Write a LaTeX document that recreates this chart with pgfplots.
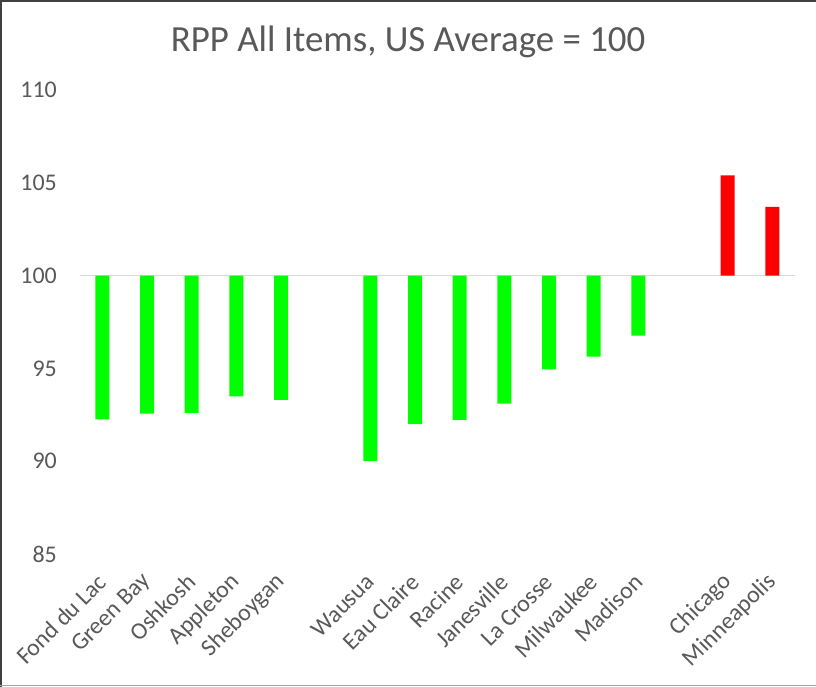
\documentclass[border=0pt]{standalone}
\usepackage{pgfplots}
\pgfplotsset{compat=1.18}
\usepackage{fontspec}
\setmainfont{Carlito}
\definecolor{txt}{HTML}{595959}
\definecolor{gridc}{HTML}{D9D9D9}
\definecolor{barg}{HTML}{00FF00}
\definecolor{barr}{HTML}{FF0000}
\definecolor{frame}{HTML}{404040}
\begin{document}
\begin{tikzpicture}[x=1bp,y=1bp]
\useasboundingbox (0,0) rectangle (816,-687);
\fill[white] (0,0) rectangle (816,-687);
\draw[frame, line width=2bp] (1,-687) -- (1,-1) -- (816,-1);
\draw[gray!70, line width=1bp] (0,-685.5) -- (816,-685.5);
\node[anchor=base, text=txt, font=\fontsize{37}{42}\selectfont] at (408,-52) {RPP All Items, US Average = 100};
\begin{axis}[
  at={(80bp,-554bp)}, anchor=south west,
  scale only axis, width=714.7bp, height=464bp,
  xmin=-0.5, xmax=15.5,
  ymin=-15, ymax=10,
  y filter/.expression={y-100},
  ytick={-15,-10,-5,0,5,10},
  yticklabels={85,90,95,100,105,110},
  xtick={0,1,2,3,4,6,7,8,9,10,11,12,14,15},
  xticklabels={Fond du Lac,Green Bay,Oshkosh,Appleton,Sheboygan,Wausua,Eau Claire,Racine,Janesville,La Crosse,Milwaukee,Madison,Chicago,Minneapolis},
  axis line style={draw=none},
  tick style={draw=none},
  major tick length=0pt,
  yticklabel style={text=txt, font=\fontsize{24}{28}\selectfont, anchor=east, inner sep=0pt, xshift=-23bp},
  xticklabel style={text=txt, font=\fontsize{24}{28}\selectfont, anchor=east, rotate=45, inner sep=0pt},
  xticklabel shift=24bp,
  extra y ticks={0},
  extra y tick labels={},
  extra y tick style={grid=major, major grid style={draw=gridc, line width=1.5bp}},
  ybar, bar width=14bp, bar shift=0pt,
  clip=false,
]
\addplot[fill=barg, draw=none] coordinates {
  (0,92.25) (1,92.57) (2,92.6) (3,93.5) (4,93.3)
  (6,90.0) (7,92.0) (8,92.23) (9,93.1) (10,94.95) (11,95.64) (12,96.77)
};
\addplot[fill=barr, draw=none] coordinates {
  (14,105.4) (15,103.7)
};
\end{axis}
\end{tikzpicture}
\end{document}
